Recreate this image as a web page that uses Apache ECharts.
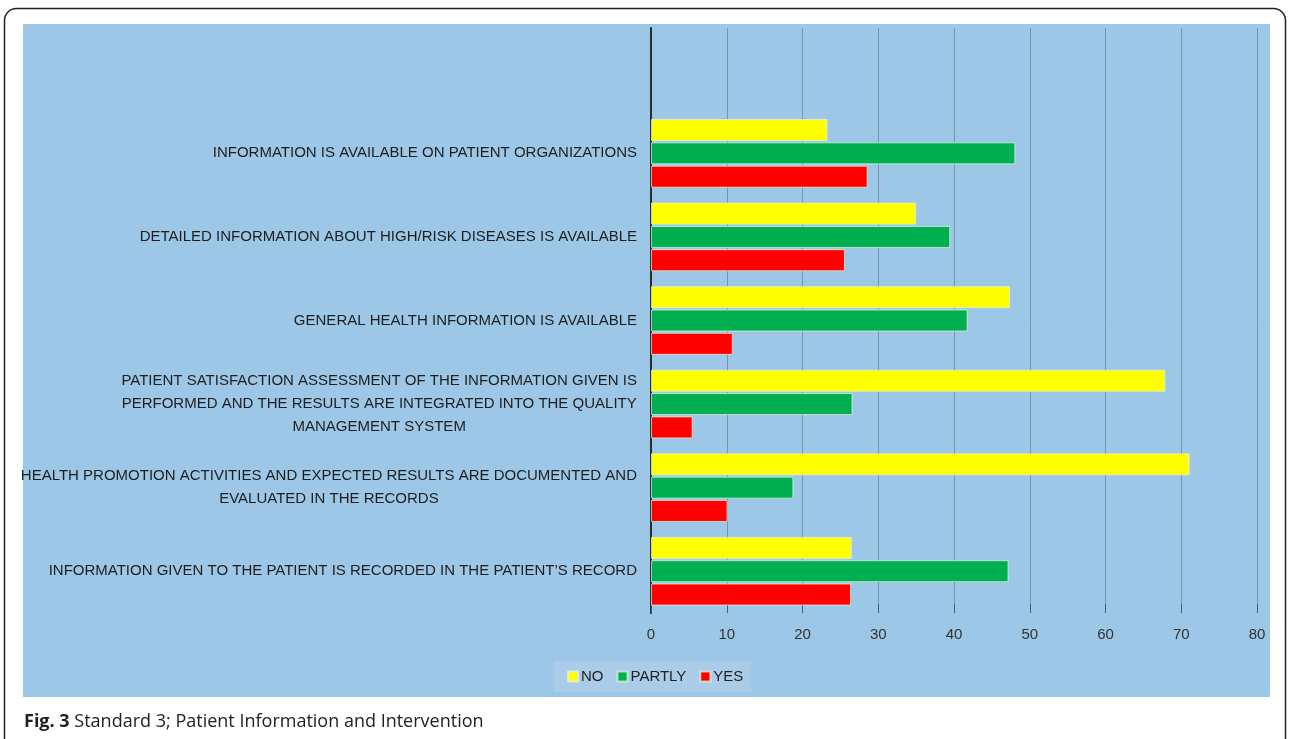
<!DOCTYPE html>
<html>
<head>
<meta charset="utf-8">
<script src="https://cdn.jsdelivr.net/npm/echarts@6/dist/echarts.min.js"></script>
<style>
  html, body { margin: 0; padding: 0; background: #fff; }
  #divChart { width: 1290px; height: 739px; }
</style>
</head>
<body>
<div id="divChart"></div>
<script>
// categories, top to bottom as in the figure
var categories = [
    'INFORMATION IS AVAILABLE ON PATIENT ORGANIZATIONS',
    'DETAILED INFORMATION ABOUT HIGH/RISK DISEASES IS AVAILABLE',
    'GENERAL HEALTH INFORMATION IS AVAILABLE',
    'PATIENT SATISFACTION ASSESSMENT OF THE INFORMATION GIVEN IS\nPERFORMED AND THE RESULTS ARE INTEGRATED INTO THE QUALITY\nMANAGEMENT SYSTEM',
    'HEALTH PROMOTION ACTIVITIES AND EXPECTED RESULTS ARE DOCUMENTED AND\nEVALUATED IN THE RECORDS',
    'INFORMATION GIVEN TO THE PATIENT IS RECORDED IN THE PATIENT\u2019S RECORD'
];
var seriesNames = ['NO', 'PARTLY', 'YES'];
var noValues = [23.3, 35.0, 47.4, 67.9, 71.1, 26.5];
var partlyValues = [48.1, 39.5, 41.8, 26.6, 18.8, 47.2];
var yesValues = [28.6, 25.6, 10.8, 5.5, 10.1, 26.4];
var xTicks = { min: 0, max: 80, interval: 10 };

var FONT = '"Liberation Sans", Arial, sans-serif';
var myChart = echarts.init(document.getElementById('divChart'));

function rev(a) {
    return a.slice().reverse();
}

function buildSeries() {
    var colors = ['#ffff00', '#00b050', '#ff0000'];
    var values = [noValues, partlyValues, yesValues];
    var result = [];
    for (var i = 0; i < seriesNames.length; i++) {
        result.push({
            name: seriesNames[i],
            type: 'bar',
            barWidth: 22,
            barGap: '6%',
            itemStyle: { color: colors[i], borderColor: 'rgba(230,245,220,0.7)', borderWidth: 1 },
            data: rev(values[i])
        });
    }
    return result;
}

var option = {
    backgroundColor: '#ffffff',
    animation: false,
    graphic: {
        elements: [
            {
                type: 'rect', z: -1,
                shape: { x: 4.5, y: 8.5, width: 1281, height: 760, r: 12 },
                style: { fill: '#ffffff', stroke: '#222', lineWidth: 1.5 }
            },
            {
                type: 'rect', z: 0,
                shape: { x: 23, y: 24, width: 1247, height: 673 },
                style: { fill: '#9dc7e6' }
            }
        ]
    },
    title: {
        left: 19,
        top: 708,
        text: '{b|Fig. 3} Standard 3; Patient Information and Intervention',
        textStyle: {
            fontFamily: '"Open Sans", sans-serif',
            fontSize: 18,
            fontWeight: 'normal',
            color: '#222',
            rich: {
                b: { fontFamily: '"Open Sans", sans-serif', fontSize: 18, fontWeight: 'bold', color: '#222' }
            }
        }
    },
    legend: {
        data: seriesNames,
        left: 554,
        top: 661,
        padding: [8, 8, 8, 13],
        itemGap: 13,
        itemWidth: 10,
        itemHeight: 10,
        icon: 'rect',
        backgroundColor: '#aacce8',
        textStyle: { fontFamily: FONT, fontSize: 15, color: '#222', padding: [0, 0, 0, -2] }
    },
    grid: {
        left: 651,
        right: 33,
        top: 28,
        bottom: 126,
        containLabel: false
    },
    xAxis: {
        type: 'value',
        min: xTicks.min,
        max: xTicks.max,
        interval: xTicks.interval,
        axisLine: { show: false },
        axisTick: { show: true, inside: true, length: 9, lineStyle: { color: '#4d5c6b' } },
        splitLine: { show: true, lineStyle: { color: '#7a94ab', width: 1 } },
        axisLabel: { fontFamily: FONT, fontSize: 15, color: '#333', margin: 14 }
    },
    yAxis: {
        type: 'category',
        data: rev(categories),
        max: categories.length,
        axisLine: { show: true, lineStyle: { color: '#2b2b2b', width: 2 } },
        axisTick: { show: false },
        splitLine: { show: false },
        axisLabel: {
            margin: 14,
            fontFamily: FONT,
            fontSize: 15,
            color: '#1e1e1e',
            lineHeight: 23,
            formatter: function (v) {
                if (!v) return '';
                return v.split('\n').map(function (l) { return '{c|' + l + '}'; }).join('\n');
            },
            rich: {
                c: { align: 'center', fontFamily: FONT, fontSize: 15, lineHeight: 23, color: '#1e1e1e' }
            }
        }
    },
    series: buildSeries()
};

myChart.setOption(option);
</script>
</body>
</html>
